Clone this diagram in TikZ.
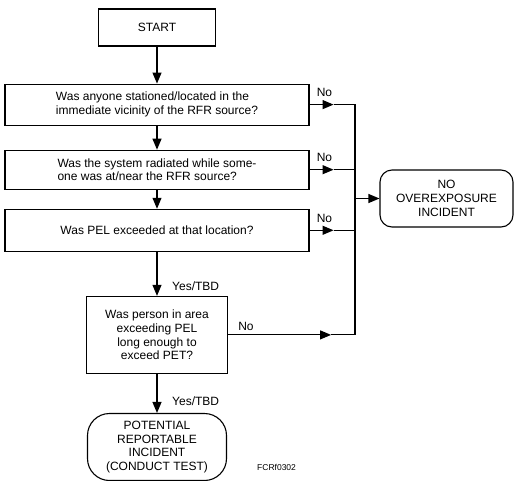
\documentclass[tikz,border=0pt]{standalone}
\usepackage{fontspec}
\setmainfont{Liberation Sans}
\usetikzlibrary{arrows.meta,positioning,calc}

\begin{document}
\begin{tikzpicture}[
    node distance=24pt,
    qBox/.style={rectangle, draw, line width=1.1pt, font=\fontsize{12}{13.8}\selectfont, inner sep=3pt},
    endBox/.style={qBox, rounded corners=12pt, align=center},
    arrow/.style={-{Triangle[length=11pt,width=9pt]}, line width=1.1pt},
    busLine/.style={line width=1.1pt},
    tagLabel/.style={font=\fontsize{12}{13.8}\selectfont, inner sep=0pt, anchor=base west}
]
\useasboundingbox (0,0) rectangle (520pt,-480pt);

\node[qBox, minimum width=117pt, minimum height=37pt] (start) at (157pt,-27.5pt) {START};
\node[qBox, minimum width=304pt, minimum height=41pt, align=left, below=37pt of start] (q1) {Was anyone stationed/located in the\\immediate vicinity of the RFR source?};
\node[qBox, minimum width=304pt, minimum height=39pt, align=left, below=24pt of q1] (q2) {Was the system radiated while some-\\one was at/near the RFR source?};
\node[qBox, minimum width=304pt, minimum height=42pt, align=left, below=19pt of q2] (q3) {Was PEL exceeded at that location?};
\node[qBox, minimum width=141pt, minimum height=77pt, align=center, below=44pt of q3] (q4) {Was person in area\\exceeding PEL\\long enough to\\exceed PET?};
\node[endBox, minimum width=139pt, minimum height=67pt, rounded corners=22pt, below=39pt of q4] (pot) {POTENTIAL\\REPORTABLE\\INCIDENT\\(CONDUCT TEST)};
\node[endBox, minimum width=133pt, minimum height=57pt] (noexp) at (446.5pt,-198.5pt) {NO\\OVEREXPOSURE\\INCIDENT};

% main path
\draw[arrow] (start) -- (q1);
\draw[arrow] (q1) -- (q2);
\draw[arrow] (q2) -- (q3);
\draw[arrow] (q3) -- (q4);
\draw[arrow] (q4) -- (pot);

\node[tagLabel] (yes1) at ($(q4.north)+(15pt,5.5pt)$) {Yes/TBD};
\node[tagLabel] (yes2) at ($(pot.north)+(15pt,7.5pt)$) {Yes/TBD};

% "No" branches to the bus line
\coordinate (bus) at (355pt,0);
\coordinate[right=24pt of q1.east] (n1);
\coordinate[right=24pt of q2.east] (n2);
\coordinate[right=24pt of q3.east] (n3);
\coordinate[right=103pt of q4.east] (n4);
\coordinate (busTop) at (q1.east -| bus);
\coordinate (busBot) at (q4.east -| bus);

\draw[arrow] (q1.east) -- (n1);
\draw[arrow] (q2.east) -- (n2);
\draw[arrow] (q3.east) -- (n3);
\draw[arrow] (q4.east) -- (n4);
\draw[busLine] (n1) -- (busTop) -- (busBot) -- (n4);
\draw[busLine] (n2) -- (n2 -| bus);
\draw[busLine] (n3) -- (n3 -| bus);
\draw[arrow] (noexp.west -| bus) -- (noexp.west);

\node[tagLabel] (no1) at ($(q1.east)+(7pt,8pt)$) {No};
\node[tagLabel] (no2) at ($(q2.east)+(7pt,8pt)$) {No};
\node[tagLabel] (no3) at ($(q3.east)+(7pt,8pt)$) {No};
\node[tagLabel] (no4) at ($(q4.east)+(10pt,4pt)$) {No};

\node[tagLabel, font=\fontsize{8.5}{10}\selectfont] (fig) at (257pt,-470pt) {FCRf0302};

\end{tikzpicture}
\end{document}
